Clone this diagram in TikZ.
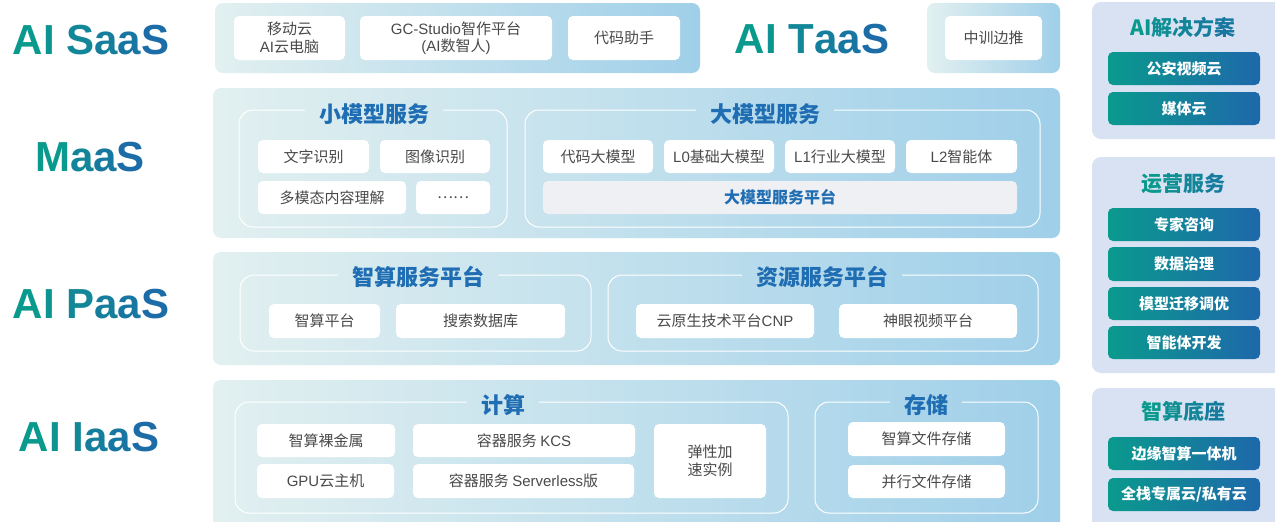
\documentclass[tikz,border=0pt]{standalone}
\usepackage{fontspec}
\setmainfont{Noto Sans CJK SC}
\newfontfamily\lat{Liberation Sans}
\usetikzlibrary{calc}
\definecolor{cTeal}{HTML}{0A9A8D}
\definecolor{cBlue}{HTML}{1E68AA}
\definecolor{cTitle}{HTML}{1F6DB2}
\definecolor{cText}{HTML}{4A4A4A}
\definecolor{panelL}{HTML}{E2F0F0}
\definecolor{panelR}{HTML}{9FCFE9}
\definecolor{sideC}{HTML}{D8E2F2}
\definecolor{platC}{HTML}{EEF0F4}
\newcommand\gc[2]{{\color{cTeal!#1!cBlue}#2}}
\newcommand\la[1]{{\lat #1}}
\newcommand\mybox[7][]{\node[#1,minimum width={#5-#3},minimum height={#6-#4}] (#2) at ({(#3+#5)/2},{(#4+#6)/2}) {#7};}
\newcommand\grp[8]{\node[gtitle] (#1) at (#2,#3) {#8};
  \coordinate (#1r) at ([xshift=14pt]#1.east);
  \coordinate (#1l) at ([xshift=-14pt]#1.west);
  \draw[gline] (#1r |- 0,#5) -- (#6,#5) -- (#6,#7) -- (#4,#7) -- (#4,#5) -- (#1l |- 0,#5);}
\tikzset{
  box/.style={fill=white, rounded corners=5pt, align=center, inner sep=0pt, text=cText, font=\fontsize{15}{17.5}\selectfont},
  plat/.style={fill=platC, rounded corners=5pt, inner sep=0pt, text=cTitle, font=\bfseries\fontsize{16}{18}\selectfont},
  panel/.style={left color=panelL, right color=panelR, rounded corners=8pt, inner sep=0pt},
  side/.style={fill=sideC, rounded corners=9pt, inner sep=0pt},
  btn/.style={left color=cTeal, right color=cBlue, rounded corners=5pt, text=white, font=\bfseries\fontsize{15}{18}\selectfont, inner sep=0pt},
  gtitle/.style={text=cTitle, font=\bfseries\fontsize{22}{24}\selectfont, inner sep=0pt},
  gline/.style={draw=white, line width=1pt, rounded corners=14pt},
  big/.style={font=\lat\bfseries\fontsize{42}{48}\selectfont, inner sep=0pt},
  stitle/.style={font=\bfseries\fontsize{21}{24}\selectfont, inner sep=0pt},
}
\begin{document}
\begin{tikzpicture}[x=1pt,y=-1pt]
\clip (0,0) rectangle (1275,522);
\fill[white] (0,0) rectangle (1275,522);
% left labels
\node[big] (lsaas) at (91,40) {\gc{100}{A}\gc{88}{I} \gc{62}{S}\gc{45}{a}\gc{28}{a}\gc{10}{S}};
\node[big] (lmaas) at (90,157) {\gc{100}{M}\gc{60}{a}\gc{35}{a}\gc{10}{S}};
\node[big] (lpaas) at (91,304) {\gc{100}{A}\gc{88}{I} \gc{62}{P}\gc{45}{a}\gc{28}{a}\gc{10}{S}};
\node[big] (liaas) at (89,437) {\gc{100}{A}\gc{88}{I} \gc{62}{I}\gc{45}{a}\gc{28}{a}\gc{10}{S}};
% SaaS
\mybox[panel]{psaas}{215}{3}{700}{73}{}
\mybox[box]{b1}{234}{16}{345}{60}{移动云\\\la{AI}云电脑}
\mybox[box]{b2}{360}{16}{552}{60}{\la{GC-Studio}智作平台\\\la{(AI}数智人\la{)}}
\mybox[box]{b3}{568}{16}{680}{60}{代码助手}
\node[big] (ltaas) at (812,39) {\gc{100}{A}\gc{88}{I} \gc{62}{T}\gc{45}{a}\gc{28}{a}\gc{10}{S}};
\mybox[panel]{ptaas}{927}{3}{1060}{73}{}
\mybox[box]{b4}{945}{16}{1042}{60}{中训边推}
% MaaS
\mybox[panel]{pmaas}{213}{88}{1060}{238}{}
\grp{t1}{374}{114}{239}{110}{507}{227}{小模型服务}
\mybox[box]{m1}{258}{140}{369}{173}{文字识别}
\mybox[box]{m2}{380}{140}{490}{173}{图像识别}
\mybox[box]{m3}{258}{181}{406}{214}{多模态内容理解}
\mybox[box]{m4}{416}{181}{490}{214}{……}
\grp{t2}{765}{114}{525}{110}{1040}{227}{大模型服务}
\mybox[box]{m5}{543}{140}{653}{173}{代码大模型}
\mybox[box]{m6}{664}{140}{774}{173}{\la{L0}基础大模型}
\mybox[box]{m7}{785}{140}{895}{173}{\la{L1}行业大模型}
\mybox[box]{m8}{906}{140}{1017}{173}{\la{L2}智能体}
\mybox[plat]{m9}{543}{181}{1017}{214}{大模型服务平台}
% PaaS
\mybox[panel]{ppaas}{213}{252}{1060}{365}{}
\grp{t3}{418}{277}{240}{275}{591}{351}{智算服务平台}
\mybox[box]{p1}{269}{304}{380}{338}{智算平台}
\mybox[box]{p2}{396}{304}{565}{338}{搜索数据库}
\grp{t4}{822}{277}{608}{275}{1038}{351}{资源服务平台}
\mybox[box]{p3}{636}{304}{814}{338}{云原生技术平台\la{CNP}}
\mybox[box]{p4}{839}{304}{1017}{338}{神眼视频平台}
% IaaS
\mybox[panel]{piaas}{213}{380}{1060}{540}{}
\grp{t5}{503}{405}{235}{402}{788}{513}{计算}
\mybox[box]{i1}{257}{424}{395}{457}{智算裸金属}
\mybox[box]{i2}{413}{424}{635}{457}{容器服务 \la{KCS}}
\mybox[box]{i3}{257}{464}{394}{498}{\la{GPU}云主机}
\mybox[box]{i4}{413}{464}{634}{498}{容器服务 \la{Serverless}版}
\mybox[box]{i5}{654}{424}{766}{498}{弹性加\\速实例}
\grp{t6}{926}{405}{815}{402}{1038}{513}{存储}
\mybox[box]{i6}{848}{422}{1005}{456}{智算文件存储}
\mybox[box]{i7}{848}{465}{1005}{498}{并行文件存储}
% right column
\mybox[side]{s1}{1092}{2}{1290}{139}{}
\node[stitle] (s1t) at (1183,27) {\gc{100}{A}\gc{90}{I}\gc{75}{解}\gc{60}{决}\gc{45}{方}\gc{30}{案}};
\mybox[btn]{s1a}{1108}{52}{1260}{85}{公安视频云}
\mybox[btn]{s1b}{1108}{92}{1260}{125}{媒体云}
\mybox[side]{s2}{1092}{157}{1290}{373}{}
\node[stitle] (s2t) at (1183,184) {\gc{100}{运}\gc{80}{营}\gc{60}{服}\gc{40}{务}};
\mybox[btn]{s2a}{1108}{208}{1260}{241}{专家咨询}
\mybox[btn]{s2b}{1108}{247}{1260}{281}{数据治理}
\mybox[btn]{s2c}{1108}{287}{1260}{320}{模型迁移调优}
\mybox[btn]{s2d}{1108}{326}{1260}{359}{智能体开发}
\mybox[side]{s3}{1092}{388}{1290}{540}{}
\node[stitle] (s3t) at (1183,411) {\gc{100}{智}\gc{80}{算}\gc{60}{底}\gc{40}{座}};
\mybox[btn]{s3a}{1108}{437}{1260}{470}{边缘智算一体机}
\mybox[btn]{s3b}{1108}{478}{1260}{511}{全栈专属云/私有云}
\end{tikzpicture}
\end{document}
